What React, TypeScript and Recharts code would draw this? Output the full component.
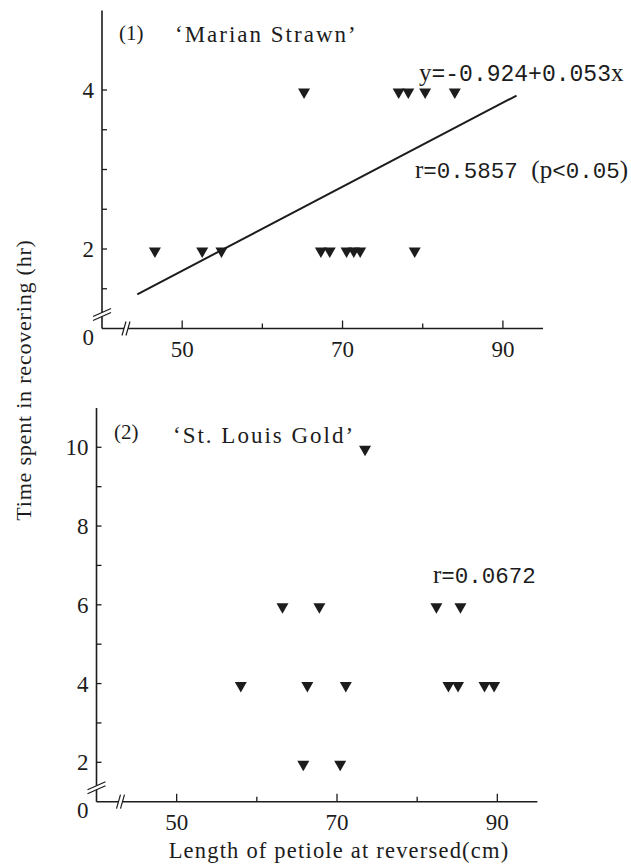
import { Scatter, ScatterChart, XAxis, YAxis } from 'recharts';

// (1) 'Marian Strawn'
const marianLength = [46.6, 52.5, 54.9, 65.2, 67.3, 68.4, 70.5, 71.4, 72.2, 77.0, 78.2, 79.0, 80.3, 84.0];
const marianHours = [2, 2, 2, 4, 2, 2, 2, 2, 2, 4, 4, 2, 4, 4];
const marianFitLength = [44.4, 91.7];
const marianFitHours = [1.43, 3.93];

// (2) 'St. Louis Gold'
const goldLength = [73.5, 63.2, 67.8, 82.4, 85.4, 58.0, 66.3, 71.1, 83.9, 85.1, 88.4, 89.6, 65.8, 70.4];
const goldHours = [10, 6, 6, 6, 6, 4, 4, 4, 4, 4, 4, 4, 2, 2];

const xTicks = [40, 50, 60, 70, 80, 90];
const xLabelled = [50, 70, 90];
const marianYTicks = [1, 1.5, 2, 2.5, 3, 3.5, 4];
const marianYLabelled = [2, 4];
const goldYTicks = [1, 2, 3, 4, 5, 6, 7, 8, 9, 10];
const goldYLabelled = [2, 4, 6, 8, 10];

const INK = '#1c1c1c';
const SERIF = '"Liberation Serif", "Times New Roman", serif';
const MONO = '"Liberation Mono", monospace';

const pairs = (xs: number[], ys: number[]) => xs.map((x, i) => ({ x, y: ys[i] }));

function Triangle(props: any) {
  const { cx, cy } = props;
  if (cx == null || cy == null) return <g />;
  return <path d={`M${cx - 6},${cy - 1.5} L${cx + 6},${cy - 1.5} L${cx},${cy + 9} Z`} fill={INK} />;
}

function makeYTick(labelled: number[]) {
  return function YTick(props: any) {
    const { x, y, payload } = props;
    const v = payload.value;
    const isBase = v === 1;
    return (
      <g>
        {!isBase && <line x1={x} x2={x + 5} y1={y} y2={y} stroke={INK} strokeWidth={1.3} />}
        {isBase && (
          <g>
            <polygon points={`${x - 9},${y - 12} ${x + 9},${y - 20} ${x + 9},${y - 16} ${x - 9},${y - 8}`} fill="#fff" />
            <line x1={x - 9} y1={y - 12} x2={x + 9} y2={y - 20} stroke={INK} strokeWidth={1.2} />
            <line x1={x - 9} y1={y - 8} x2={x + 9} y2={y - 16} stroke={INK} strokeWidth={1.2} />
            <text x={x - 8} y={y + 16} textAnchor="end" fontFamily={SERIF} fontSize={23} fill={INK}>
              0
            </text>
          </g>
        )}
        {labelled.includes(v) && (
          <text x={x - 8} y={y + 8} textAnchor="end" fontFamily={SERIF} fontSize={23} fill={INK}>
            {v}
          </text>
        )}
      </g>
    );
  };
}

function XTick(props: any) {
  const { x, y, payload } = props;
  const v = payload.value;
  if (v === xTicks[0]) {
    return (
      <g>
        <polygon points={`${x + 20},${y + 7} ${x + 24},${y - 7} ${x + 28},${y - 7} ${x + 24},${y + 7}`} fill="#fff" />
        <line x1={x + 20} y1={y + 7} x2={x + 24} y2={y - 7} stroke={INK} strokeWidth={1.2} />
        <line x1={x + 24} y1={y + 7} x2={x + 28} y2={y - 7} stroke={INK} strokeWidth={1.2} />
      </g>
    );
  }
  const major = xLabelled.includes(v);
  return (
    <g>
      <line x1={x} x2={x} y1={y} y2={y - (major ? 8 : 5)} stroke={INK} strokeWidth={1.3} />
      {major && (
        <text x={x} y={y + 28} textAnchor="middle" fontFamily={SERIF} fontSize={23} fill={INK}>
          {v}
        </text>
      )}
    </g>
  );
}

const axisLine = { stroke: INK, strokeWidth: 1.6 };

export default function App() {
  const marian = pairs(marianLength, marianHours);
  const marianFit = pairs(marianFitLength, marianFitHours);
  const gold = pairs(goldLength, goldHours);

  return (
    <div style={{ position: 'relative', width: 631, height: 868, background: '#fff', overflow: 'hidden' }}>
      <style>{'body { margin: 0; }'}</style>

      <div style={{ position: 'absolute', left: 0, top: 0 }}>
        <ScatterChart width={631} height={370} margin={{ top: 10.5, right: 88, bottom: 11.5, left: 62 }}>
          <XAxis
            type="number"
            dataKey="x"
            domain={[40, 95]}
            ticks={xTicks}
            interval={0}
            tickSize={0}
            tickMargin={0}
            tickLine={false}
            axisLine={axisLine}
            height={30}
            tick={XTick}
          />
          <YAxis
            type="number"
            dataKey="y"
            domain={[1, 5]}
            ticks={marianYTicks}
            interval={0}
            tickSize={0}
            tickMargin={0}
            tickLine={false}
            axisLine={axisLine}
            width={40}
            tick={makeYTick(marianYLabelled)}
          />
          <Scatter data={marian} shape={Triangle} isAnimationActive={false} />
          <Scatter
            data={marianFit}
            line={{ stroke: INK, strokeWidth: 2 }}
            shape={() => <g />}
            isAnimationActive={false}
          />
        </ScatterChart>
      </div>

      <div style={{ position: 'absolute', left: 0, top: 400 }}>
        <ScatterChart width={631} height={468} margin={{ top: 7.9, right: 93.6, bottom: 36.3, left: 56.5 }}>
          <XAxis
            type="number"
            dataKey="x"
            domain={[40, 95]}
            ticks={xTicks}
            interval={0}
            tickSize={0}
            tickMargin={0}
            tickLine={false}
            axisLine={axisLine}
            height={30}
            tick={XTick}
          />
          <YAxis
            type="number"
            dataKey="y"
            domain={[1, 11]}
            ticks={goldYTicks}
            interval={0}
            tickSize={0}
            tickMargin={0}
            tickLine={false}
            axisLine={axisLine}
            width={40}
            tick={makeYTick(goldYLabelled)}
          />
          <Scatter data={gold} shape={Triangle} isAnimationActive={false} />
        </ScatterChart>
      </div>

      {/* titles, statistics and axis titles */}
      <svg width={631} height={868} style={{ position: 'absolute', left: 0, top: 0, pointerEvents: 'none' }}>
        <g fill={INK}>
          <text x={119} y={40} fontFamily={SERIF} fontSize={21}>(1)</text>
          <text x={175} y={42} fontFamily={SERIF} fontSize={23} letterSpacing={2}>‘Marian Strawn’</text>
          <text x={419} y={81} fontFamily={MONO} fontSize={23}>
            <tspan fontFamily={SERIF} fontSize={25}>y</tspan>=-0.924+0.053<tspan fontFamily={SERIF} fontSize={25}>x</tspan>
          </text>
          <text x={415} y={178} fontFamily={MONO} fontSize={22.5}>
            <tspan fontFamily={SERIF} fontSize={25}>r</tspan>=0.5857 <tspan fontFamily={SERIF} fontSize={25}>(p</tspan>&lt;0.05<tspan fontFamily={SERIF} fontSize={25}>)</tspan>
          </text>

          <text x={114} y={439} fontFamily={SERIF} fontSize={21}>(2)</text>
          <text x={173} y={443} fontFamily={SERIF} fontSize={23} letterSpacing={2}>‘St. Louis Gold’</text>
          <text x={433} y={583} fontFamily={MONO} fontSize={22.5}>
            <tspan fontFamily={SERIF} fontSize={25}>r</tspan>=0.0672
          </text>

          <text x={339} y={858} textAnchor="middle" fontFamily={SERIF} fontSize={22.5} letterSpacing={1.2}>
            Length of petiole at reversed(cm)
          </text>
          <text
            x={31}
            y={380}
            textAnchor="middle"
            transform="rotate(-90 31 380)"
            fontFamily={SERIF}
            fontSize={22}
            letterSpacing={0.8}
          >
            Time spent in recovering (hr)
          </text>
        </g>
      </svg>
    </div>
  );
}
